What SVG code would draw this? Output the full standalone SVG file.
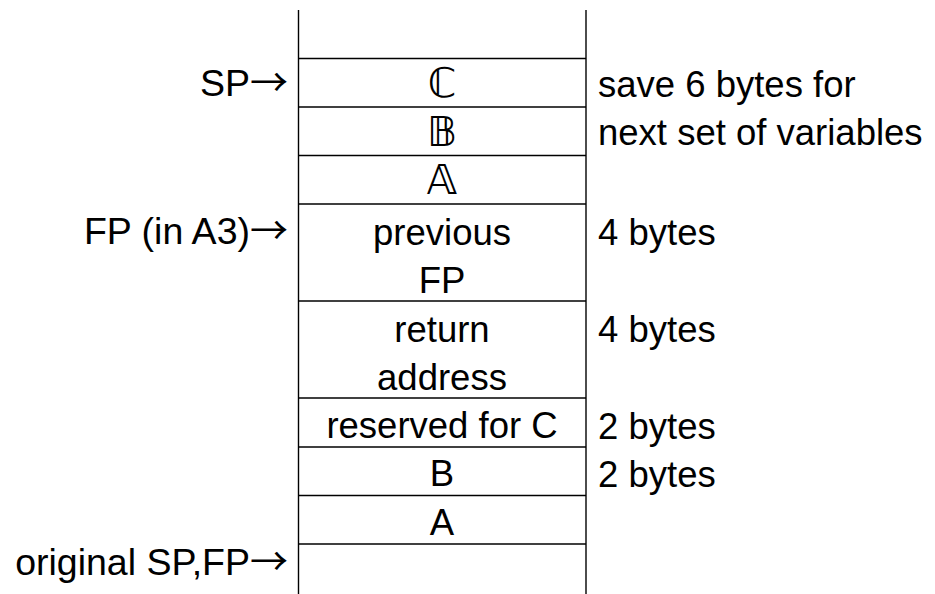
<svg xmlns="http://www.w3.org/2000/svg" width="935" height="594" viewBox="0 0 935 594">
<style>
text{font-family:"Liberation Sans",Arial,sans-serif;font-size:36.5px;fill:#000}
.c{text-anchor:middle}
.r{text-anchor:end}
.l{text-anchor:start}
.ds{font-family:"DejaVu Sans","Liberation Sans",sans-serif;font-size:41px}
.ar{font-family:"Noto Sans CJK SC","DejaVu Sans",sans-serif;font-size:38px}
.lab{font-size:37.5px}
line{stroke:#000;stroke-width:1.4}
</style>
<rect width="935" height="594" fill="#fff"/>
<g id="connectors">
<line x1="298.5" y1="10" x2="298.5" y2="594"/>
<line x1="586" y1="10" x2="586" y2="594"/>
<line x1="298.5" y1="58.5" x2="586" y2="58.5"/>
<line x1="298.5" y1="107" x2="586" y2="107"/>
<line x1="298.5" y1="155.5" x2="586" y2="155.5"/>
<line x1="298.5" y1="204" x2="586" y2="204"/>
<line x1="298.5" y1="301" x2="586" y2="301"/>
<line x1="298.5" y1="398" x2="586" y2="398"/>
<line x1="298.5" y1="447" x2="586" y2="447"/>
<line x1="298.5" y1="495.5" x2="586" y2="495.5"/>
<line x1="298.5" y1="544" x2="586" y2="544"/>
</g>
<g id="cellC"><text class="c ds" x="442" y="97">ℂ</text></g>
<g id="cellB2"><text class="c ds" x="442" y="145.5">𝔹</text></g>
<g id="cellA2"><text class="c ds" x="442" y="194">𝔸</text></g>
<g id="cellPrevFP"><text class="c" x="442" y="245">previous</text><text class="c" x="442" y="293">FP</text></g>
<g id="cellReturn"><text class="c" x="442" y="342">return</text><text class="c" x="442" y="390">address</text></g>
<g id="cellReserved"><text class="c" x="442" y="438">reserved for C</text></g>
<g id="cellB"><text class="c" x="442" y="486">B</text></g>
<g id="cellA"><text class="c" x="442" y="534.5">A</text></g>
<g id="labelSP"><text class="r lab" x="288" y="96">SP<tspan class="ar">→</tspan></text></g>
<g id="labelFP"><text class="r lab" x="288" y="244">FP (in A3)<tspan class="ar">→</tspan></text></g>
<g id="labelOrig"><text class="r lab" x="288" y="575">original SP,FP<tspan class="ar">→</tspan></text></g>
<g id="note6"><text class="l" x="598" y="96.5">save 6 bytes for</text><text class="l" x="598" y="145">next set of variables</text></g>
<g id="note4a"><text class="l" x="598" y="245">4 bytes</text></g>
<g id="note4b"><text class="l" x="598" y="342">4 bytes</text></g>
<g id="note2a"><text class="l" x="598" y="439">2 bytes</text></g>
<g id="note2b"><text class="l" x="598" y="487">2 bytes</text></g>
</svg>
